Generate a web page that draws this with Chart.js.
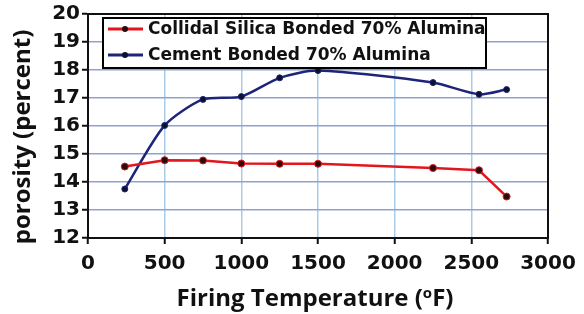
<!DOCTYPE html>
<html>
<head>
<meta charset="utf-8">
<script src="https://cdn.jsdelivr.net/npm/chart.js@4"></script>
<style>
  html, body { margin: 0; padding: 0; background: #fff; }
  #wrap { width: 584px; height: 314px; }
</style>
</head>
<body>
<div id="wrap"><canvas id="myChart" width="584" height="314"></canvas></div>
<script>
// values
var silicaTemps = [240, 500, 750, 1000, 1250, 1500, 2250, 2550, 2730];
var silicaPorosity = [14.55, 14.78, 14.77, 14.66, 14.65, 14.65, 14.5, 14.42, 13.48];
var cementTemps = [240, 500, 750, 1000, 1250, 1500, 2250, 2550, 2730];
var cementPorosity = [13.75, 16.02, 16.95, 17.05, 17.72, 17.98, 17.55, 17.13, 17.3];
var seriesNames = ['Collidal Silica Bonded 70% Alumina', 'Cement Bonded 70% Alumina'];
var xTicks = [0, 500, 1000, 1500, 2000, 2500, 3000];
var yTicks = [12, 13, 14, 15, 16, 17, 18, 19, 20];
// x title in three pieces, the "o" is raised like a superscript
var xTitleParts = ['Firing Temperature (', 'o', 'F)'];
var yTitle = 'porosity (percent)';

function pairs(xs, ys) {
    var out = [];
    for (let i = 0; i < xs.length; i++) {
        out.push({ x: xs[i], y: ys[i] });
    }
    return out;
}

var boxPlugin = {
    id: 'boxPlugin',
    afterDatasetsDraw: function (chart) {
        var ctx = chart.ctx, a = chart.chartArea;
        ctx.save();
        ctx.strokeStyle = '#111';
        ctx.lineWidth = 2;
        ctx.strokeRect(a.left, a.top, a.right - a.left, a.bottom - a.top);

        // legend box
        var lx = 103, ly = 18, lw = 383, lh = 50;
        ctx.fillStyle = '#fff';
        ctx.fillRect(lx, ly, lw, lh);
        ctx.lineWidth = 2;
        ctx.strokeStyle = '#000';
        ctx.strokeRect(lx, ly, lw, lh);
        ctx.font = 'bold 17px "DejaVu Sans"';
        ctx.textBaseline = 'middle';
        chart.data.datasets.forEach(function (ds, i) {
            var cy = ly + 11 + i * 26;
            ctx.strokeStyle = ds.borderColor;
            ctx.lineWidth = 3;
            ctx.beginPath();
            ctx.moveTo(lx + 5, cy);
            ctx.lineTo(lx + 40, cy);
            ctx.stroke();
            ctx.fillStyle = ds.pointBackgroundColor;
            ctx.beginPath();
            ctx.arc(lx + 22, cy, 3, 0, Math.PI * 2);
            ctx.fill();
            ctx.fillStyle = '#111';
            ctx.fillText(ds.label, lx + 45, cy + 1);
        });

        // x title
        ctx.fillStyle = '#111';
        ctx.textBaseline = 'alphabetic';
        ctx.textAlign = 'left';
        var big = 'bold 24px "Open Sans"', small = 'bold 15px "Open Sans"';
        ctx.font = big;
        var w0 = ctx.measureText(xTitleParts[0]).width;
        var w2 = ctx.measureText(xTitleParts[2]).width;
        ctx.font = small;
        var w1 = ctx.measureText(xTitleParts[1]).width;
        var x0 = 315 - (w0 + w1 + w2) / 2, base = 306;
        ctx.font = big;
        ctx.fillText(xTitleParts[0], x0, base);
        ctx.font = small;
        ctx.fillText(xTitleParts[1], x0 + w0, base - 8);
        ctx.font = big;
        ctx.fillText(xTitleParts[2], x0 + w0 + w1, base);

        // y title
        ctx.font = big;
        ctx.textAlign = 'center';
        ctx.textBaseline = 'middle';
        ctx.translate(23, 137);
        ctx.rotate(-Math.PI / 2);
        ctx.fillText(yTitle, 0, 0);
        ctx.restore();
    }
};

var tickFont = { family: 'DejaVu Sans', weight: 'bold', size: 20 };

var ctx = document.getElementById('myChart').getContext('2d');
var myChart = new Chart(ctx, {
    type: 'line',
    data: {
        datasets: [
            {
                label: seriesNames[0],
                data: pairs(silicaTemps, silicaPorosity),
                borderColor: '#e3161e',
                backgroundColor: '#e3161e',
                pointBackgroundColor: '#2a0a0a',
                pointBorderColor: '#e3161e',
                pointRadius: 3.5,
                pointBorderWidth: 1,
                borderWidth: 2.5,
                tension: 0
            },
            {
                label: seriesNames[1],
                data: pairs(cementTemps, cementPorosity),
                borderColor: '#1c2578',
                backgroundColor: '#1c2578',
                pointBackgroundColor: '#0d1030',
                pointBorderColor: '#1c2578',
                pointRadius: 3,
                pointBorderWidth: 1,
                borderWidth: 2.5,
                tension: 0.25
            }
        ]
    },
    options: {
        responsive: false,
        animation: false,
        layout: { padding: { top: 14, right: 36, left: 0, bottom: 0 } },
        plugins: {
            legend: { display: false },
            tooltip: { enabled: false }
        },
        scales: {
            x: {
                type: 'linear',
                min: 0,
                max: 3000,
                afterBuildTicks: function (s) { s.ticks = xTicks.map(function (v) { return { value: v }; }); },
                afterFit: function (s) { s.height = 76; },
                grid: { color: '#a9cbe8', lineWidth: 1.5, tickColor: '#111', tickLength: 6, tickWidth: 2 },
                border: { color: '#111', width: 2 },
                ticks: { color: '#111', font: tickFont, padding: 8, callback: function (v) { return String(v); } }
            },
            y: {
                min: 12,
                max: 20,
                afterBuildTicks: function (s) { s.ticks = yTicks.map(function (v) { return { value: v }; }); },
                afterFit: function (s) { s.width = 88; },
                grid: { color: '#8ea4cf', lineWidth: 1.5, tickColor: '#111', tickLength: 6, tickWidth: 2 },
                border: { color: '#111', width: 2 },
                ticks: { color: '#111', font: tickFont, padding: 2, callback: function (v) { return String(v); } }
            }
        }
    },
    plugins: [boxPlugin]
});
</script>
</body>
</html>
